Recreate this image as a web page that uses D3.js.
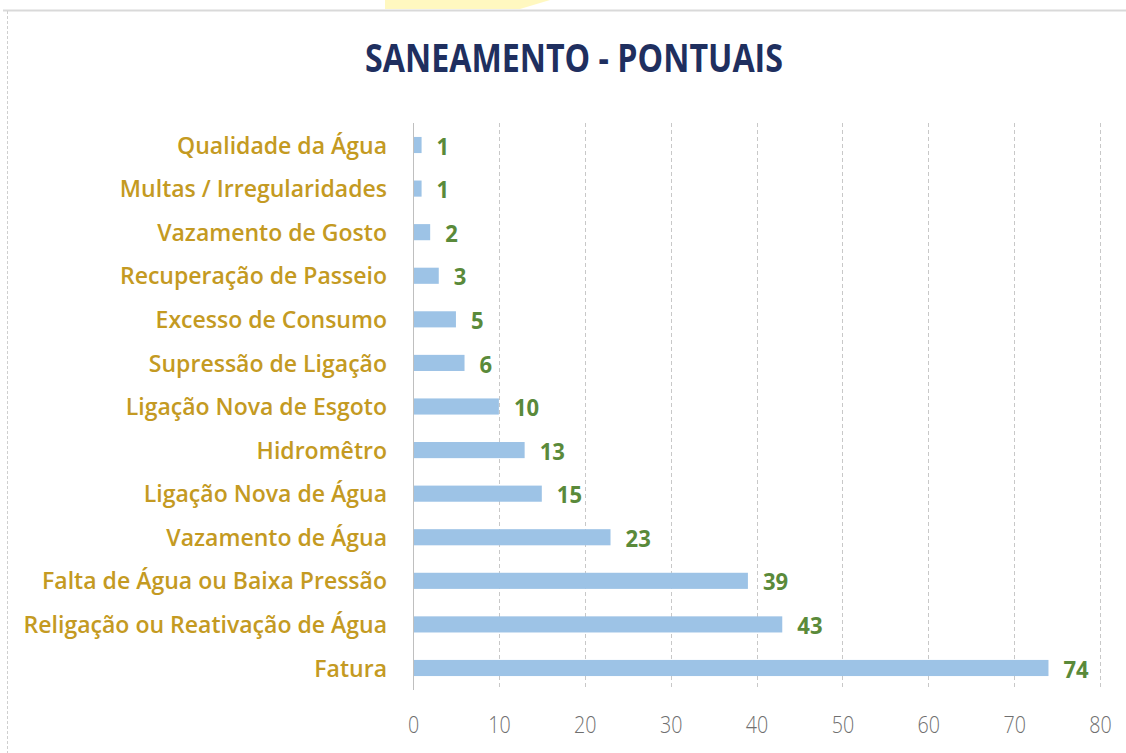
<!DOCTYPE html>
<html>
<head>
<meta charset="utf-8">
<script src="https://cdn.jsdelivr.net/npm/d3@7"></script>
<style>
  body { margin: 0; background: #fff; }
  svg { display: block; }
</style>
</head>
<body>
<div id="chart"></div>
<script>
// Saneamento - pontuais: horizontal bar chart

var categories = [
    "Qualidade da Água",
    "Multas / Irregularidades",
    "Vazamento de Gosto",
    "Recuperação de Passeio",
    "Excesso de Consumo",
    "Supressão de Ligação",
    "Ligação Nova de Esgoto",
    "Hidromêtro",
    "Ligação Nova de Água",
    "Vazamento de Água",
    "Falta de Água ou Baixa Pressão",
    "Religação ou Reativação de Água",
    "Fatura"
];
var values = [1, 1, 2, 3, 5, 6, 10, 13, 15, 23, 39, 43, 74];
var ticks = [0, 10, 20, 30, 40, 50, 60, 70, 80];

var width = 1126,
    height = 753;

var margin = {
    top: 123,
    right: 26,
    bottom: 63,
    left: 413
}

var svg = d3.select("#chart").append("svg")
    .attr("width", width)
    .attr("height", height);

// frame of the pasted chart
svg.append("line")
    .attr("x1", 3).attr("x2", width)
    .attr("y1", 10.5).attr("y2", 10.5)
    .attr("stroke", "#d9d9d9")
    .attr("stroke-width", 2);
svg.append("line")
    .attr("x1", 7.5).attr("x2", 7.5)
    .attr("y1", 11).attr("y2", height)
    .attr("stroke", "#cfcfcf")
    .attr("stroke-dasharray", "3,2");
// yellow smudge at the top
svg.append("path")
    .attr("d", "M385,0 L550,0 L520,9 L385,9 Z")
    .attr("fill", "#fff6b0")
    .attr("opacity", 0.8);

svg.append("text")
    .attr("x", 574)
    .attr("y", 72)
    .attr("text-anchor", "middle")
    .attr("textLength", 418)
    .attr("lengthAdjust", "spacingAndGlyphs")
    .style("font-family", "'Open Sans', sans-serif")
    .style("font-weight", "bold")
    .style("font-size", "40px")
    .style("fill", "#1f2f5f")
    .text("SANEAMENTO - PONTUAIS");

var x = d3.scaleLinear()
    .domain([0, 80])
    .range([margin.left, width - margin.right]);

var y = d3.scaleBand()
    .domain(categories)
    .range([margin.top, height - margin.bottom])
    .paddingInner(0.63)
    .paddingOuter(0.32);

// dashed gridlines
svg.append("g")
    .selectAll("line")
    .data(ticks.slice(1))
    .enter().append("line")
    .attr("x1", function(d) { return Math.round(x(d)) + 0.5; })
    .attr("x2", function(d) { return Math.round(x(d)) + 0.5; })
    .attr("y1", margin.top)
    .attr("y2", height - margin.bottom)
    .attr("stroke", "#c8c8c8")
    .attr("stroke-dasharray", "4,3");

// value axis (labels only)
var xAxis = d3.axisBottom(x).tickValues(ticks).tickSize(0).tickPadding(0);
var xAx = svg.append("g")
    .attr("transform", "translate(0," + 724 + ")")
    .call(xAxis);
xAx.select(".domain").remove();
xAx.selectAll("text")
    .attr("dy", "0.36em")
    .attr("transform", "scale(0.82,1)")
    .style("font-family", "'Open Sans', sans-serif")
    .style("font-weight", "300")
    .style("font-size", "24px")
    .style("fill", "#6f6f6f");

// bars
svg.append("g")
    .selectAll("rect")
    .data(values)
    .enter().append("rect")
    .attr("x", x(0))
    .attr("y", function(d, i) { return y(categories[i]); })
    .attr("width", function(d) { return x(d) - x(0); })
    .attr("height", y.bandwidth())
    .attr("fill", "#9dc3e6");

// category axis line
svg.append("line")
    .attr("x1", Math.round(x(0)) + 0.5).attr("x2", Math.round(x(0)) + 0.5)
    .attr("y1", margin.top)
    .attr("y2", height - margin.bottom)
    .attr("stroke", "#bfbfbf");

// category labels
svg.append("g")
    .selectAll("text")
    .data(categories)
    .enter().append("text")
    .attr("transform", function(d) {
        return "translate(" + (x(0) - 26) + "," + (y(d) + y.bandwidth() / 2) + ") scale(0.96,1)";
    })
    .attr("dy", "0.36em")
    .attr("text-anchor", "end")
    .style("font-family", "'Open Sans', sans-serif")
    .style("font-weight", "600")
    .style("font-size", "24px")
    .style("fill", "#c49a22")
    .text(function(d) { return d; });

// value labels
svg.append("g")
    .selectAll("text")
    .data(values)
    .enter().append("text")
    .attr("transform", function(d, i) {
        return "translate(" + (x(d) + 15) + "," + (y(categories[i]) + y.bandwidth() / 2) + ") scale(0.92,1)";
    })
    .attr("dy", "0.4em")
    .style("font-family", "'Open Sans', sans-serif")
    .style("font-weight", "bold")
    .style("font-size", "24px")
    .style("fill", "#5a8a3a")
    .text(function(d) { return d; });
</script>
</body>
</html>
